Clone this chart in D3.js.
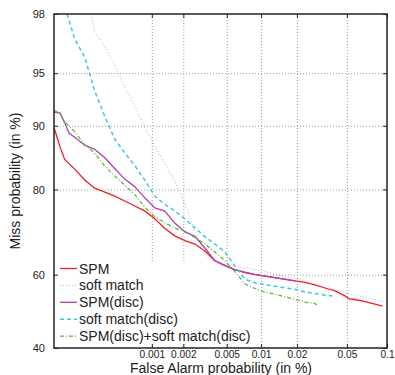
<!DOCTYPE html>
<html>
<head>
<meta charset="utf-8">
<script src="https://cdn.jsdelivr.net/npm/d3@7"></script>
<style>
body { margin: 0; background: #fff; }
text { font-family: "Liberation Sans", Arial, sans-serif; fill: #222; }
</style>
</head>
<body>
<svg width="395" height="375"></svg>
<script>
// DET curve, both axes on a normal deviate (probit) scale, values in %
const xTicks = [0.001, 0.002, 0.005, 0.01, 0.02, 0.05, 0.1]
const yTicks = [40, 60, 80, 90, 95, 98]
const xDomain = [0.0001, 0.1]
const yDomain = [40, 98]

const seriesNames = ["SPM", "soft match", "SPM(disc)", "soft match(disc)", "SPM(disc)+soft match(disc)"]

// [false alarm %, miss %]
const spm = [[0.0001,89.8],[0.000108,88.5],[0.000116,87.2],[0.00013,85.3],[0.000166,83.7],[0.000211,81.8],
    [0.000268,80.25],[0.00034,79.5],[0.000429,78.7],[0.000541,77.7],[0.000681,76.65],[0.000854,75.6],
    [0.00107,73.85],[0.001335,71.65],[0.00166,69.9],[0.00207,68.75],[0.00256,67.9],[0.00317,66.15],
    [0.00391,63.65],[0.00481,62.4],[0.00591,61.35],[0.00723,60.55],[0.00884,60.0],[0.01078,59.6],
    [0.0131,59.2],[0.0159,58.75],[0.0193,58.3],[0.0233,57.9],[0.028,57.25],[0.0337,56.4],[0.0404,55.6],
    [0.0483,54.25],[0.0522,53.4],[0.0577,53.25],[0.0687,52.7],[0.0816,51.95],[0.0926,51.45]]

const softMatch = [[0.000246,98.0],[0.000268,97.35],[0.00034,96.6],[0.000429,95.55],[0.000541,93.95],
    [0.000681,92.2],[0.000854,89.75],[0.00107,87.35],[0.001335,84.55],[0.00166,81.6],[0.00207,77.0],
    [0.00256,71.0],[0.00317,65.4],[0.00391,63.2],[0.00481,62.55],[0.00591,62.15],[0.00723,61.9],
    [0.00884,61.3],[0.01078,60.8],[0.0131,60.2],[0.0159,59.55],[0.0193,58.9],[0.0233,58.2],[0.028,57.5],
    [0.0337,56.7],[0.0404,55.9],[0.0483,55.15],[0.0577,54.45],[0.0687,53.8],[0.0816,53.25],[0.099,52.4]]

const spmDisc = [[0.0001,91.55],[0.000116,91.45],[0.00013,90.35],[0.000145,89.05],[0.000166,88.55],
    [0.000211,87.45],[0.000268,86.85],[0.00034,85.55],[0.000429,83.8],[0.000541,81.95],[0.000681,80.55],
    [0.000854,78.35],[0.00107,76.25],[0.001335,75.55],[0.00166,72.9],[0.00207,70.9],[0.00256,69.8],
    [0.00317,66.9],[0.00391,63.7],[0.00481,62.45],[0.00591,61.25],[0.00723,60.65],[0.00884,60.05],
    [0.01078,59.6],[0.0131,59.2],[0.0159,58.8],[0.0193,58.3]]

const softMatchDisc = [[0.000138,98.0],[0.000166,97.0],[0.000211,96.05],[0.000268,93.6],[0.00034,91.1],
    [0.000429,88.3],[0.000541,86.3],[0.000681,84.3],[0.000854,81.75],[0.00107,78.7],[0.001335,77.0],
    [0.00166,75.6],[0.00207,73.85],[0.00256,71.8],[0.00317,69.7],[0.00391,67.9],[0.00481,65.9],
    [0.00591,62.3],[0.00723,58.8],[0.00884,57.8],[0.01078,57.3],[0.0131,56.85],[0.0159,56.45],
    [0.0193,56.0],[0.0233,55.3],[0.028,54.9],[0.0337,54.45],[0.0385,54.2]]

const combined = [[0.0001,91.75],[0.000116,91.45],[0.00013,90.5],[0.000166,89.25],[0.000211,87.55],
    [0.000268,86.25],[0.00034,84.2],[0.000429,82.55],[0.000541,80.8],[0.000681,79.0],[0.000854,76.4],
    [0.00107,74.35],[0.001335,72.95],[0.00166,71.75],[0.00207,70.8],[0.00256,69.5],[0.00317,67.95],
    [0.00391,65.9],[0.00481,63.65],[0.00591,60.8],[0.00723,57.55],[0.00884,56.25],[0.01078,55.25],
    [0.0131,54.7],[0.0159,54.0],[0.0193,53.25],[0.0233,52.55],[0.028,52.15],[0.0298,51.45]]

const styles = [
    { color: "#f01e1e", width: 1.3, dash: null },
    { color: "#aab0e4", width: 1, dash: "1,2" },
    { color: "#b040ae", width: 1.3, dash: null },
    { color: "#3fc6de", width: 1.5, dash: "4,3" },
    { color: "#52b82c", width: 1.2, dash: "4,2,1,2" }
]
const series = [spm, softMatch, spmDisc, softMatchDisc, combined]

// inverse normal CDF (Acklam)
function probit(p) {
    const a = [-3.969683028665376e+01, 2.209460984245205e+02, -2.759285104469687e+02, 1.383577518672690e+02, -3.066479806614716e+01, 2.506628277459239e+00]
    const b = [-5.447609879822406e+01, 1.615858368580409e+02, -1.556989798598866e+02, 6.680131188771972e+01, -1.328068155288572e+01]
    const c = [-7.784894002430293e-03, -3.223964580411365e-01, -2.400758277161838e+00, -2.549671010366640e+00, 4.374664141464968e+00, 2.938163982698783e+00]
    const d = [7.784695709041462e-03, 3.224671290700398e-01, 2.445134137142996e+00, 3.754408661907416e+00]
    const pl = 0.02425
    if (p < pl) {
        const q = Math.sqrt(-2 * Math.log(p))
        return (((((c[0]*q+c[1])*q+c[2])*q+c[3])*q+c[4])*q+c[5]) / ((((d[0]*q+d[1])*q+d[2])*q+d[3])*q+1)
    }
    if (p > 1 - pl) {
        const q = Math.sqrt(-2 * Math.log(1 - p))
        return -(((((c[0]*q+c[1])*q+c[2])*q+c[3])*q+c[4])*q+c[5]) / ((((d[0]*q+d[1])*q+d[2])*q+d[3])*q+1)
    }
    const q = p - 0.5, r = q * q
    return (((((a[0]*r+a[1])*r+a[2])*r+a[3])*r+a[4])*r+a[5])*q / (((((b[0]*r+b[1])*r+b[2])*r+b[3])*r+b[4])*r+1)
}
const pz = v => probit(v / 100)

const svg = d3.select("svg")
const plotL = 54, plotR = 387, plotT = 14, plotB = 348

const xLin = d3.scaleLinear().domain(xDomain.map(pz)).range([plotL, plotR])
const yLin = d3.scaleLinear().domain(yDomain.map(pz)).range([plotB, plotT])
const x = v => xLin(pz(v))
const y = v => yLin(pz(v))

svg.append("defs").append("clipPath").attr("id", "plot")
    .append("rect").attr("x", plotL).attr("y", plotT).attr("width", plotR - plotL).attr("height", plotB - plotT)

// dotted grid
const xGridTicks = xTicks.filter(v => v < xDomain[1]).map(pz)
const yGridTicks = yTicks.filter(v => v > yDomain[0] && v < yDomain[1]).map(pz)
const grid = svg.append("g")
grid.append("g").attr("transform", `translate(0,${plotB})`)
    .call(d3.axisBottom(xLin).tickValues(xGridTicks).tickSize(-(plotB - plotT)).tickFormat(""))
grid.append("g").attr("transform", `translate(${plotL},0)`)
    .call(d3.axisLeft(yLin).tickValues(yGridTicks).tickSize(-(plotR - plotL)).tickFormat(""))
grid.selectAll(".domain").remove()
grid.selectAll("line").attr("stroke", "#9a9a9a").attr("stroke-dasharray", "1,2")

// key box hides the grid, the curves stay on top of it
svg.append("rect").attr("x", 57).attr("y", 261).attr("width", 200).attr("height", 81).attr("fill", "#fff")

// curves
const line = d3.line().x(d => x(d[0])).y(d => y(d[1]))
const curves = svg.append("g").attr("clip-path", "url(#plot)")
series.forEach((s, i) => {
    curves.append("path")
        .attr("d", line(s))
        .attr("fill", "none")
        .attr("stroke", styles[i].color)
        .attr("stroke-width", styles[i].width)
        .attr("stroke-dasharray", styles[i].dash)
})

// legend
const legend = svg.append("g")
seriesNames.forEach((name, i) => {
    const ly = 268.5 + i * 16.9
    legend.append("line")
        .attr("x1", 60).attr("x2", 77).attr("y1", ly).attr("y2", ly)
        .attr("stroke", styles[i].color)
        .attr("stroke-width", styles[i].width)
        .attr("stroke-dasharray", styles[i].dash)
    legend.append("text")
        .attr("x", 79).attr("y", ly).attr("dy", "0.36em")
        .attr("font-size", 14)
        .text(name)
})

// axes, ticks pointing inwards on all four sides
const xTickVals = xTicks.map(pz), yTickVals = yTicks.map(pz)
const axes = svg.append("g")
axes.append("g").attr("transform", `translate(0,${plotB})`)
    .call(d3.axisBottom(xLin).tickValues(xTickVals).tickSize(-4).tickPadding(3)
        .tickFormat((d, i) => xTicks[i]))
    .attr("font-size", 10.2)
axes.append("g").attr("transform", `translate(${plotL},0)`)
    .call(d3.axisLeft(yLin).tickValues(yTickVals).tickSize(-4).tickPadding(9)
        .tickFormat((d, i) => yTicks[i]))
    .attr("font-size", 11)
axes.append("g").attr("transform", `translate(0,${plotT})`)
    .call(d3.axisTop(xLin).tickValues(xTickVals).tickSize(-4).tickFormat(""))
axes.append("g").attr("transform", `translate(${plotR},0)`)
    .call(d3.axisRight(yLin).tickValues(yTickVals).tickSize(-4).tickFormat(""))
axes.selectAll(".domain").remove()
axes.selectAll("line").attr("stroke", "#222")
axes.selectAll("text").attr("fill", "#222").attr("font-family", "Liberation Sans, Arial, sans-serif")

svg.append("rect")
    .attr("x", plotL).attr("y", plotT).attr("width", plotR - plotL).attr("height", plotB - plotT)
    .attr("fill", "none").attr("stroke", "#222").attr("stroke-width", 1.5)

svg.append("text")
    .attr("x", (plotL + plotR) / 2 + 0.5).attr("y", 373.3)
    .attr("text-anchor", "middle").attr("font-size", 14)
    .text("False Alarm probability (in %)")
svg.append("text")
    .attr("transform", "translate(20,181) rotate(-90)")
    .attr("text-anchor", "middle").attr("font-size", 14)
    .text("Miss probability (in %)")
</script>
</body>
</html>
